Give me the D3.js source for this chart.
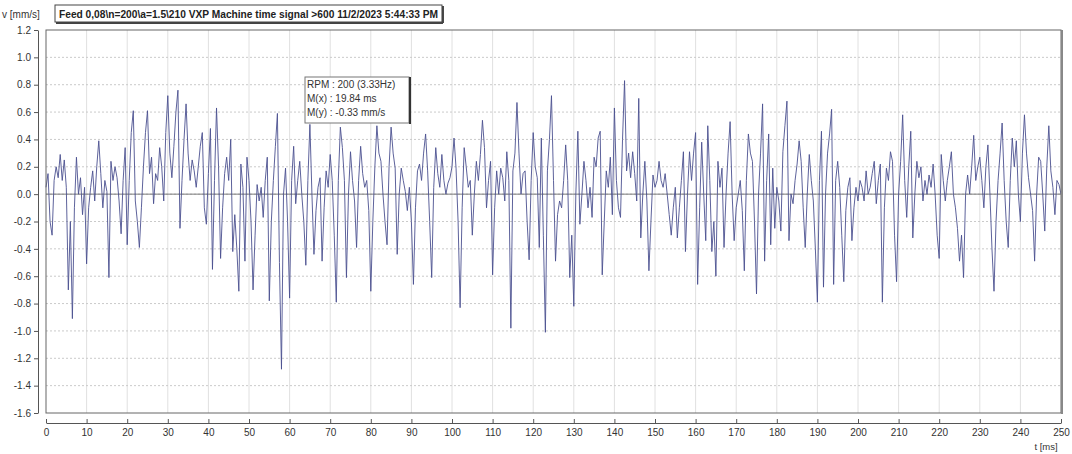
<!DOCTYPE html>
<html>
<head>
<meta charset="utf-8">
<script src="https://cdn.jsdelivr.net/npm/d3@7"></script>
<style>
  body { margin: 0; background: #fff; }
  svg { font-family: "Liberation Sans", Arial, sans-serif; }
  .axis text { font-size: 10px; fill: #333; }
  .axis path, .axis line { stroke: #555; }
</style>
</head>
<body>
<svg width="1072" height="454"></svg>
<script>
// sample spacing of the signal, ms
var dt = 0.5;

// v [mm/s], one row per 10 ms
var vel = [
  0.05, 0.15, -0.2, -0.3, 0.1, 0.2, 0.12, 0.29, 0.1, 0.25, 0.05, -0.70, -0.2, -0.91, -0.1, 0.27, 0.0, 0.12, -0.15, 0.05,
  -0.51, -0.1, 0.05, 0.17, -0.05, 0.2, 0.39, 0.15, -0.10, 0.1, 0.02, -0.61, 0.24, 0.1, 0.2, 0.12, -0.05, -0.29, 0.1, 0.34,
  -0.37, 0.1, 0.45, 0.61, -0.05, -0.20, -0.39, -0.1, 0.2, 0.45, 0.61, 0.15, 0.27, -0.07, 0.15, 0.1, 0.34, 0.2, -0.05, 0.45,
  0.72, 0.3, 0.12, 0.35, 0.6, 0.76, -0.25, 0.1, 0.4, 0.66, 0.3, 0.1, 0.25, 0.17, 0.05, 0.2, 0.35, 0.45, -0.1, -0.22,
  0.15, 0.48, -0.55, 0.1, 0.63, 0.2, -0.47, -0.1, 0.15, 0.27, 0.1, 0.40, -0.42, -0.15, -0.4, -0.71, 0.22, 0.05, -0.49, 0.27,
  0.1, -0.2, -0.70, -0.3, 0.07, -0.05, 0.05, -0.17, 0.1, 0.27, -0.78, -0.2, 0.1, 0.35, 0.59, -0.5, -1.28, 0.0, 0.19, -0.2,
  -0.76, 0.1, 0.35, -0.07, 0.1, 0.24, 0.0, -0.2, -0.52, 0.1, 0.51, 0.0, -0.44, -0.12, 0.05, 0.12, -0.49, -0.1, 0.17, 0.05,
  0.29, 0.1, -0.3, -0.79, 0.1, 0.49, 0.34, 0.1, -0.61, 0.0, 0.31, 0.1, -0.05, -0.39, 0.1, 0.35, 0.15, 0.05, 0.1, -0.12,
  -0.71, -0.2, 0.2, 0.50, 0.3, 0.24, 0.0, -0.2, -0.37, 0.2, 0.49, 0.3, 0.19, -0.44, 0.0, 0.19, 0.1, 0.02, -0.12, 0.05,
  -0.2, -0.66, -0.1, 0.17, 0.22, 0.1, 0.3, 0.44, 0.17, -0.2, -0.61, 0.05, 0.34, 0.15, 0.05, 0.29, 0.1, 0.0, 0.08, 0.12,
  0.2, 0.41, 0.19, -0.2, -0.83, -0.1, 0.34, 0.2, 0.05, 0.1, -0.30, 0.0, 0.24, 0.1, 0.29, 0.54, 0.34, -0.1, 0.1, 0.24,
  -0.59, -0.1, 0.17, 0.0, 0.19, 0.12, -0.05, 0.31, 0.1, -0.98, 0.17, 0.3, 0.67, 0.3, 0.0, 0.15, 0.17, -0.2, -0.48, 0.1,
  0.45, 0.2, 0.12, -0.39, 0.41, -0.3, -1.01, 0.17, 0.4, 0.72, 0.1, -0.49, -0.15, -0.05, -0.1, 0.1, 0.36, 0.1, -0.61, -0.3,
  -0.82, 0.0, 0.46, -0.22, 0.0, 0.24, 0.1, -0.1, 0.05, -0.17, 0.27, 0.2, 0.41, 0.46, -0.59, -0.2, 0.17, 0.05, 0.27, -0.15,
  0.63, 0.1, -0.1, -0.17, 0.4, 0.83, 0.17, 0.3, 0.12, 0.31, 0.15, -0.05, 0.70, -0.32, 0.0, 0.24, -0.05, -0.56, -0.2, 0.14,
  0.05, 0.1, 0.24, 0.1, 0.05, 0.15, 0.0, -0.15, -0.3, -0.1, 0.05, -0.32, -0.1, 0.1, 0.31, -0.42, 0.0, 0.31, 0.1, 0.3,
  0.45, -0.66, -0.1, 0.38, 0.0, -0.34, 0.50, 0.1, -0.42, -0.2, -0.60, 0.24, 0.05, 0.19, -0.39, 0.0, 0.3, 0.53, 0.0, -0.34,
  -0.1, 0.0, 0.1, -0.12, -0.56, 0.1, 0.44, 0.3, 0.24, -0.2, -0.73, 0.0, 0.3, 0.66, -0.49, 0.1, 0.44, -0.37, 0.19, -0.25,
  0.05, -0.05, -0.27, 0.31, 0.5, 0.68, -0.34, 0.0, -0.07, 0.1, 0.22, 0.39, 0.24, -0.1, -0.39, 0.0, 0.29, 0.1, -0.05, -0.4,
  -0.79, 0.1, 0.46, -0.68, 0.0, 0.3, 0.44, 0.62, -0.66, 0.1, 0.24, 0.05, -0.3, -0.64, -0.12, 0.05, 0.12, -0.34, -0.1, 0.05,
  -0.05, 0.1, 0.05, -0.05, 0.17, 0.0, 0.05, 0.15, 0.24, -0.07, 0.1, 0.22, -0.79, -0.1, 0.19, 0.1, 0.31, 0.24, -0.3, -0.64,
  0.0, 0.24, 0.58, 0.1, -0.17, 0.2, 0.46, -0.32, 0.0, 0.24, 0.12, 0.2, -0.05, 0.1, 0.0, 0.14, 0.05, 0.22, 0.0, -0.3,
  -0.47, 0.29, 0.1, -0.05, 0.1, 0.2, 0.31, 0.0, -0.1, -0.25, -0.49, -0.3, -0.61, 0.0, 0.14, 0.0, 0.2, 0.43, 0.1, 0.2,
  0.27, 0.1, -0.1, 0.2, 0.36, 0.0, -0.4, -0.71, -0.2, 0.1, 0.3, 0.52, 0.1, -0.2, -0.39, 0.1, 0.41, 0.2, 0.39, 0.0,
  -0.2, 0.3, 0.58, 0.3, 0.12, 0.0, -0.12, -0.49, 0.0, 0.27, 0.24, 0.0, -0.27, 0.2, 0.50, 0.17, 0.05, -0.15, 0.1, 0.07,
  0.0
];

var xTicks = d3.range(0, 251, 10);
var yTicks = [1.2, 1.0, 0.8, 0.6, 0.4, 0.2, 0.0, -0.2, -0.4, -0.6, -0.8, -1.0, -1.2, -1.4, -1.6];

var titleText = "Feed 0,08\\n=200\\a=1.5\\210 VXP Machine time signal >600 11/2/2023 5:44:33 PM";
var cursorLines = ["RPM : 200 (3.33Hz)", "M(x) : 19.84 ms", "M(y) : -0.33 mm/s"];

var svg = d3.select("svg");
var pLeft = 46, pRight = 1061, pTop = 30, pBottom = 413;

var x = d3.scaleLinear().domain([0, 250]).range([pLeft, pRight]);
var y = d3.scaleLinear().domain([-1.6, 1.2]).range([pBottom, pTop]);

// grid
svg.append("g")
    .selectAll("line")
    .data(xTicks.slice(1, -1))
    .enter().append("line")
    .attr("x1", d => x(d)).attr("x2", d => x(d))
    .attr("y1", pTop).attr("y2", pBottom)
    .attr("stroke", "#e0e0e0")
    .attr("stroke-width", 1);

svg.append("g")
    .selectAll("line")
    .data(yTicks.slice(1, -1))
    .enter().append("line")
    .attr("x1", pLeft).attr("x2", pRight)
    .attr("y1", d => y(d)).attr("y2", d => y(d))
    .attr("stroke", "#cacaca")
    .attr("stroke-dasharray", "2,2");

// zero line
svg.append("line")
    .attr("x1", pLeft).attr("x2", pRight)
    .attr("y1", y(0)).attr("y2", y(0))
    .attr("stroke", "#7a7a7a");

// signal
var line = d3.line()
    .x((d, i) => x(i * dt))
    .y(d => y(d));

svg.append("path")
    .datum(vel)
    .attr("fill", "none")
    .attr("stroke", "#4b5090")
    .attr("stroke-width", 0.9)
    .attr("stroke-linejoin", "round")
    .attr("d", line);

// plot frame
svg.append("rect")
    .attr("x", pLeft).attr("y", pTop)
    .attr("width", pRight - pLeft).attr("height", pBottom - pTop)
    .attr("fill", "none")
    .attr("stroke", "#666");
svg.append("line")
    .attr("x1", pRight + 1).attr("x2", pRight + 1)
    .attr("y1", pTop).attr("y2", pBottom + 1)
    .attr("stroke", "#888").attr("stroke-width", 2);

// axes
svg.append("g")
    .attr("class", "axis")
    .attr("transform", "translate(38,0)")
    .call(d3.axisLeft(y).tickValues(yTicks).tickFormat(d => d.toFixed(1)).tickSizeInner(4).tickSizeOuter(0).tickPadding(3));

svg.append("g")
    .attr("class", "axis")
    .attr("transform", "translate(0,423)")
    .call(d3.axisBottom(x).tickValues(xTicks).tickSizeInner(-4).tickSizeOuter(0).tickPadding(6));

svg.append("text")
    .attr("x", 1046).attr("y", 450)
    .attr("text-anchor", "middle")
    .attr("font-size", 9.5)
    .attr("fill", "#333")
    .text("t [ms]");

// title
svg.append("text")
    .attr("x", 2).attr("y", 18)
    .attr("font-size", 10)
    .attr("fill", "#333")
    .text("v [mm/s]");

var titleBox = svg.append("rect");
var title = svg.append("text")
    .attr("x", 59).attr("y", 18)
    .attr("font-size", 10.2)
    .attr("font-weight", "bold")
    .attr("fill", "#222")
    .text(titleText);
var tb = title.node().getBBox();
titleBox
    .attr("x", tb.x - 4).attr("y", 5)
    .attr("width", tb.width + 8).attr("height", 17)
    .attr("fill", "#fff")
    .attr("stroke", "#444");
svg.append("line")
    .attr("x1", tb.x + tb.width + 5).attr("x2", tb.x + tb.width + 5)
    .attr("y1", 6).attr("y2", 23)
    .attr("stroke", "#444").attr("stroke-width", 2);
svg.append("line")
    .attr("x1", tb.x - 3).attr("x2", tb.x + tb.width + 5)
    .attr("y1", 23).attr("y2", 23)
    .attr("stroke", "#444").attr("stroke-width", 2);

// cursor info box
var info = svg.append("g").attr("transform", "translate(305,77)");
info.append("rect")
    .attr("width", 104).attr("height", 46)
    .attr("fill", "#fff")
    .attr("stroke", "#777");
info.append("line")
    .attr("x1", 105).attr("x2", 105)
    .attr("y1", 0).attr("y2", 47)
    .attr("stroke", "#333").attr("stroke-width", 2);
info.selectAll("text")
    .data(cursorLines)
    .enter().append("text")
    .attr("x", 2)
    .attr("y", (d, i) => 11 + i * 14)
    .attr("font-size", 10)
    .attr("fill", "#333")
    .text(d => d);
</script>
</body>
</html>
